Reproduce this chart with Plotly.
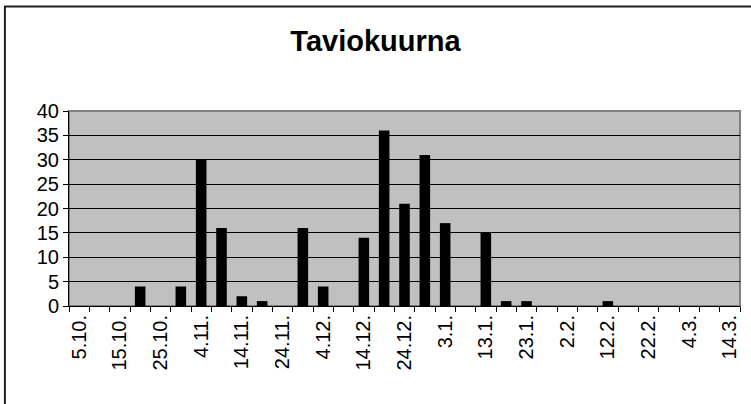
import plotly.graph_objects as go

# 5-day periods, labels shown on every other one
periods = ["5.10.", "10.10.", "15.10.", "20.10.", "25.10.", "30.10.",
           "4.11.", "9.11.", "14.11.", "19.11.", "24.11.", "29.11.",
           "4.12.", "9.12.", "14.12.", "19.12.", "24.12.", "29.12.",
           "3.1.", "8.1.", "13.1.", "18.1.", "23.1.", "28.1.",
           "2.2.", "7.2.", "12.2.", "17.2.", "22.2.", "27.2.",
           "4.3.", "9.3.", "14.3."]
counts = [0, 0, 0, 4, 0, 4,
          30, 16, 2, 1, 0, 16,
          4, 0, 14, 36, 21, 31,
          17, 0, 15, 1, 1, 0,
          0, 0, 1, 0, 0, 0,
          0, 0, 0]
y_ticks = [0, 5, 10, 15, 20, 25, 30, 35, 40]

tick_text = [p if i % 2 == 0 else "" for i, p in enumerate(periods)]

FONT = "Arial, 'Liberation Sans', sans-serif"

fig = go.Figure()
fig.add_trace(go.Bar(x=periods, y=counts, marker_color="black",
                     marker_line_width=0))

fig.update_layout(
    width=751, height=404,
    margin=dict(l=69, r=11, t=111, b=98),
    paper_bgcolor="white", plot_bgcolor="#C0C0C0",
    bargap=0.48, showlegend=False,
    font=dict(family=FONT, color="black", size=20),
    title=dict(text="<b>Taviokuurna</b>", x=0.5, xanchor="center",
               y=0.9, yanchor="middle",
               font=dict(family=FONT, size=29, color="black")),
)

fig.update_xaxes(
    type="category", tickmode="array", tickvals=periods, ticktext=tick_text,
    tickson="boundaries", ticks="outside", ticklen=5, tickcolor="black",
    tickangle=-90, showgrid=False, showline=True, linecolor="black",
    linewidth=1, tickfont=dict(size=20), range=[-0.5, len(periods) - 0.5],
)
fig.update_yaxes(
    range=[0, 40], tickvals=y_ticks, ticks="outside", ticklen=5,
    tickcolor="black", showgrid=True, gridcolor="black", gridwidth=1,
    showline=True, linecolor="black", linewidth=1, zeroline=False,
    tickfont=dict(size=20), ticksuffix="\u00a0\u00a0",
)

# plot area border and outer chart border
fig.add_shape(type="rect", xref="paper", yref="paper", x0=0, x1=1, y0=0, y1=1,
              line=dict(color="#808080", width=2), layer="below")
fig.add_shape(type="rect", xref="paper", yref="paper",
              x0=-0.0955, x1=1.05, y0=-0.6, y1=1.5365,
              line=dict(color="#202020", width=2))

# page body has a default margin, drop it so the chart sits at 0,0
fig.write_html("out.html", config={"displayModeBar": False},
               post_script="document.body.style.margin='0';")
